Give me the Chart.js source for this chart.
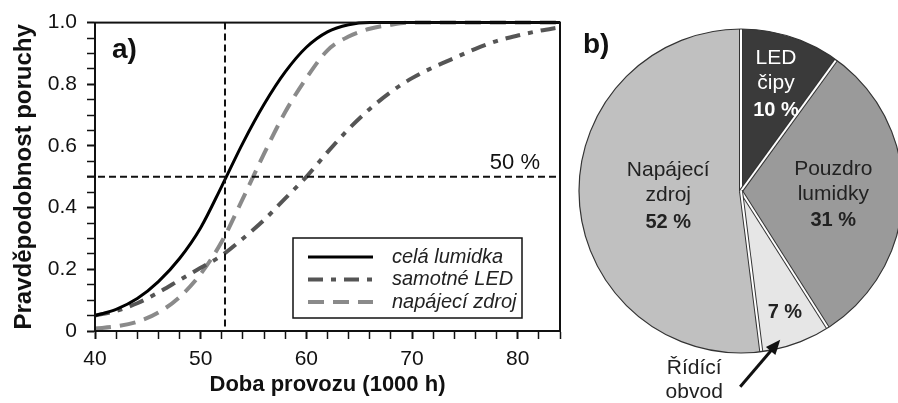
<!DOCTYPE html>
<html>
<head>
<meta charset="utf-8">
<script src="https://cdn.jsdelivr.net/npm/chart.js@4.4.0/dist/chart.umd.min.js"></script>
<style>
    html, body { margin: 0; padding: 0; background: #fff; overflow: hidden; width: 898px; height: 403px; }
    #lineWrap { position: absolute; left: 0; top: 0; width: 570px; height: 403px; }
    #pieWrap { position: absolute; left: 570px; top: 0; width: 342px; height: 403px; }
</style>
</head>
<body>
<div id="lineWrap"><canvas id="lineChart" width="570" height="403"></canvas></div>
<div id="pieWrap"><canvas id="pieChart" width="342" height="403"></canvas></div>
<script>
// --- a) failure probability curves ---
const hours = [40, 42, 44, 46, 48, 50, 52, 54, 56, 58, 60, 62, 64, 66, 68, 70, 72, 74, 76, 78, 80, 82, 84];
const celaLumidka = [0.05, 0.07, 0.105, 0.16, 0.235, 0.335, 0.47, 0.61, 0.735, 0.84, 0.92, 0.97, 0.993, 1.0, 1.0, 1.0, 1.0, 1.0, 1.0, 1.0, 1.0, 1.0, 1.0];
const samotneLED = [0.05, 0.065, 0.09, 0.125, 0.165, 0.205, 0.245, 0.30, 0.36, 0.43, 0.50, 0.58, 0.655, 0.72, 0.775, 0.82, 0.855, 0.885, 0.915, 0.94, 0.958, 0.973, 0.985];
const napajeciZdroj = [0.008, 0.015, 0.03, 0.06, 0.11, 0.185, 0.29, 0.43, 0.575, 0.71, 0.82, 0.91, 0.955, 0.98, 0.993, 1.0, 1.0, 1.0, 1.0, 1.0, 1.0, 1.0, 1.0];
const seriesNames = ['celá lumidka', 'samotné LED', 'napájecí zdroj'];
const medianHours = 52.3;   // vertical marker
const halfLevel = 0.5;      // horizontal marker

// --- b) failure share pie ---
const pieNames = ['LED čipy', 'Pouzdro lumidky', 'Řídící obvod', 'Napájecí zdroj'];
const pieValues = [10, 31, 7, 52];

const FONT = '"Liberation Sans", Arial, sans-serif';

const toXY = (ys) => hours.map((h, i) => ({ x: h, y: ys[i] }));

// box, reference lines, labels and legend for the line chart
const lineExtras = {
    id: 'lineExtras',
    afterDraw(chart) {
        const ctx = chart.ctx;
        const a = chart.chartArea;
        const xs = chart.scales.x, ys = chart.scales.y;
        ctx.save();

        // dashed markers
        ctx.strokeStyle = '#111';
        ctx.lineWidth = 2;
        ctx.setLineDash([7, 4]);
        const hy = ys.getPixelForValue(halfLevel);
        ctx.beginPath(); ctx.moveTo(a.left - 8, hy); ctx.lineTo(a.right, hy); ctx.stroke();
        const vx = xs.getPixelForValue(medianHours);
        ctx.beginPath(); ctx.moveTo(vx, a.top); ctx.lineTo(vx, a.bottom); ctx.stroke();
        ctx.setLineDash([]);

        // frame
        ctx.lineWidth = 2;
        ctx.strokeStyle = '#111';
        ctx.strokeRect(a.left, a.top, a.right - a.left, a.bottom - a.top);

        ctx.fillStyle = '#111';
        ctx.font = 'bold 28px ' + FONT;
        ctx.textAlign = 'left';
        ctx.textBaseline = 'alphabetic';
        ctx.fillText('a)', a.left + 17, a.top + 35);

        ctx.font = '22px ' + FONT;
        ctx.textAlign = 'right';
        ctx.fillText('50 %', a.right - 20, hy - 8);

        // legend
        const bx = 293, by = 238, bw = 229, bh = 80;
        ctx.fillStyle = '#fff';
        ctx.fillRect(bx, by, bw, bh);
        ctx.lineWidth = 1.5;
        ctx.strokeStyle = '#111';
        ctx.strokeRect(bx, by, bw, bh);
        chart.data.datasets.forEach((ds, i) => {
            const y = by + 19 + i * 22.5;
            ctx.strokeStyle = ds.borderColor;
            ctx.lineWidth = ds.borderWidth;
            ctx.lineCap = 'butt';
            ctx.setLineDash(ds.borderDash || []);
            ctx.beginPath(); ctx.moveTo(bx + 15, y); ctx.lineTo(bx + 80, y); ctx.stroke();
            ctx.setLineDash([]);
            ctx.fillStyle = '#222';
            ctx.font = 'italic 20px ' + FONT;
            ctx.textAlign = 'left';
            ctx.textBaseline = 'middle';
            ctx.fillText(ds.label, bx + 99, y);
        });
        ctx.restore();
    }
};

new Chart(document.getElementById('lineChart'), {
    type: 'line',
    data: {
        datasets: [
            { label: seriesNames[0], data: toXY(celaLumidka), borderColor: '#000', borderWidth: 3, borderDash: [] },
            { label: seriesNames[1], data: toXY(samotneLED), borderColor: '#555', borderWidth: 4, borderDash: [15, 8, 5, 8] },
            { label: seriesNames[2], data: toXY(napajeciZdroj), borderColor: '#8a8a8a', borderWidth: 4, borderDash: [16, 9] }
        ]
    },
    options: {
        responsive: false,
        animation: false,
        clip: 4,
        layout: { padding: { left: 0, top: 17, right: 10, bottom: 0 } },
        elements: {
            point: { radius: 0 },
            line: { cubicInterpolationMode: 'monotone', fill: false }
        },
        plugins: { legend: { display: false }, tooltip: { enabled: false } },
        scales: {
            x: {
                type: 'linear', min: 40, max: 84,
                afterFit: (s) => { s.height = 72; },
                ticks: {
                    stepSize: 2, autoSkip: false, maxRotation: 0, padding: 8,
                    color: '#111', font: { family: FONT, size: 21 },
                    callback: (v) => (v % 10 === 0 ? String(v) : '')
                },
                grid: {
                    drawOnChartArea: false, drawTicks: true, tickLength: 8, tickColor: '#111',
                    tickWidth: (c) => (c.tick && c.tick.value % 10 === 0 ? 2 : 1.5)
                },
                border: { color: '#111', width: 2 },
                title: { display: true, text: 'Doba provozu (1000 h)', color: '#111', font: { family: FONT, size: 22, weight: 'bold' }, padding: { top: 0, bottom: 5 } }
            },
            y: {
                min: 0, max: 1,
                afterFit: (s) => { s.width = 95; },
                ticks: {
                    stepSize: 0.05, autoSkip: false, padding: 10,
                    color: '#111', font: { family: FONT, size: 21 },
                    callback: (v) => {
                        const k = Math.round(v * 100);
                        if (k % 20 !== 0) return '';
                        return k === 0 ? '0' : (k / 100).toFixed(1);
                    }
                },
                grid: {
                    drawOnChartArea: false, drawTicks: true, tickLength: 8, tickColor: '#111',
                    tickWidth: (c) => (c.tick && Math.round(c.tick.value * 100) % 20 === 0 ? 2 : 1.5)
                },
                border: { color: '#111', width: 2 },
                title: { display: true, text: 'Pravděpodobnost poruchy', color: '#111', font: { family: FONT, size: 24, weight: 'bold' }, padding: { top: 10, bottom: 0 } }
            }
        }
    },
    plugins: [lineExtras]
});

// --- pie ---
const pieColors = ['#3a3a3a', '#9a9a9a', '#e6e6e6', '#c0c0c0'];
const labelColors = ['#fff', '#222', '#222', '#222'];
const labelRadius = [0.70, 0.57, 0.80, 0.45];

const pieExtras = {
    id: 'pieExtras',
    afterDatasetsDraw(chart) {
        const ctx = chart.ctx;
        const arcs = chart.getDatasetMeta(0).data;
        ctx.save();
        // slice separators: white line with dark edges
        arcs.forEach((arc) => {
            const p = arc.getProps(['x', 'y', 'startAngle', 'outerRadius']);
            const ex = p.x + Math.cos(p.startAngle) * p.outerRadius;
            const ey = p.y + Math.sin(p.startAngle) * p.outerRadius;
            ctx.strokeStyle = '#333'; ctx.lineWidth = 4;
            ctx.beginPath(); ctx.moveTo(p.x, p.y); ctx.lineTo(ex, ey); ctx.stroke();
            ctx.strokeStyle = '#fff'; ctx.lineWidth = 2;
            ctx.beginPath(); ctx.moveTo(p.x, p.y); ctx.lineTo(ex, ey); ctx.stroke();
        });
        const c0 = arcs[0].getProps(['x', 'y', 'outerRadius']);
        ctx.strokeStyle = '#333'; ctx.lineWidth = 1.2;
        ctx.beginPath(); ctx.arc(c0.x, c0.y, c0.outerRadius, 0, Math.PI * 2); ctx.stroke();

        // labels inside slices
        ctx.textAlign = 'center';
        ctx.textBaseline = 'middle';
        arcs.forEach((arc, i) => {
            const p = arc.getProps(['x', 'y', 'startAngle', 'endAngle', 'outerRadius']);
            const mid = (p.startAngle + p.endAngle) / 2;
            const lx = p.x + Math.cos(mid) * p.outerRadius * labelRadius[i];
            const ly = p.y + Math.sin(mid) * p.outerRadius * labelRadius[i];
            const pct = pieValues[i] + ' %';
            const lines = i === 2 ? [] : pieNames[i].split(' ');
            const all = lines.concat([pct]);
            const start = ly - (all.length - 1) * 25 / 2;
            ctx.fillStyle = labelColors[i];
            all.forEach((t, j) => {
                const isPct = j === all.length - 1;
                ctx.font = (isPct ? 'bold 20px ' : '21px ') + FONT;
                ctx.fillText(t, lx, start + j * 25 + (isPct && all.length > 1 ? 2 : 0));
            });
        });

        // outside label with arrow for the small slice
        const s = arcs[2].getProps(['x', 'y', 'startAngle', 'endAngle', 'outerRadius']);
        const am = s.startAngle + (s.endAngle - s.startAngle) * 0.7;
        const tipX = s.x + Math.cos(am) * s.outerRadius * 0.95;
        const tipY = s.y + Math.sin(am) * s.outerRadius * 0.95;
        const tailX = tipX - 40, tailY = tipY + 47;
        const ang = Math.atan2(tipY - tailY, tipX - tailX);
        ctx.strokeStyle = '#111'; ctx.fillStyle = '#111'; ctx.lineWidth = 3;
        ctx.beginPath(); ctx.moveTo(tailX, tailY); ctx.lineTo(tipX - Math.cos(ang) * 10, tipY - Math.sin(ang) * 10); ctx.stroke();
        ctx.beginPath();
        ctx.moveTo(tipX, tipY);
        ctx.lineTo(tipX - Math.cos(ang - 0.4) * 16, tipY - Math.sin(ang - 0.4) * 16);
        ctx.lineTo(tipX - Math.cos(ang + 0.4) * 16, tipY - Math.sin(ang + 0.4) * 16);
        ctx.closePath(); ctx.fill();

        ctx.fillStyle = '#222';
        ctx.font = '21px ' + FONT;
        const names = pieNames[2].split(' ');
        ctx.fillText(names[0], tailX - 46, tailY - 19);
        ctx.fillText(names[1], tailX - 46, tailY + 5);

        ctx.fillStyle = '#111';
        ctx.font = 'bold 28px ' + FONT;
        ctx.textAlign = 'left';
        ctx.textBaseline = 'alphabetic';
        ctx.fillText('b)', 13, 53);
        ctx.restore();
    }
};

new Chart(document.getElementById('pieChart'), {
    type: 'pie',
    data: {
        labels: pieNames,
        datasets: [{ data: pieValues, backgroundColor: pieColors, borderWidth: 0 }]
    },
    options: {
        responsive: false,
        animation: false,
        radius: 162,
        layout: { padding: { left: 0, top: 0, right: 0, bottom: 21 } },
        plugins: { legend: { display: false }, tooltip: { enabled: false } }
    },
    plugins: [pieExtras]
});
</script>
</body>
</html>
